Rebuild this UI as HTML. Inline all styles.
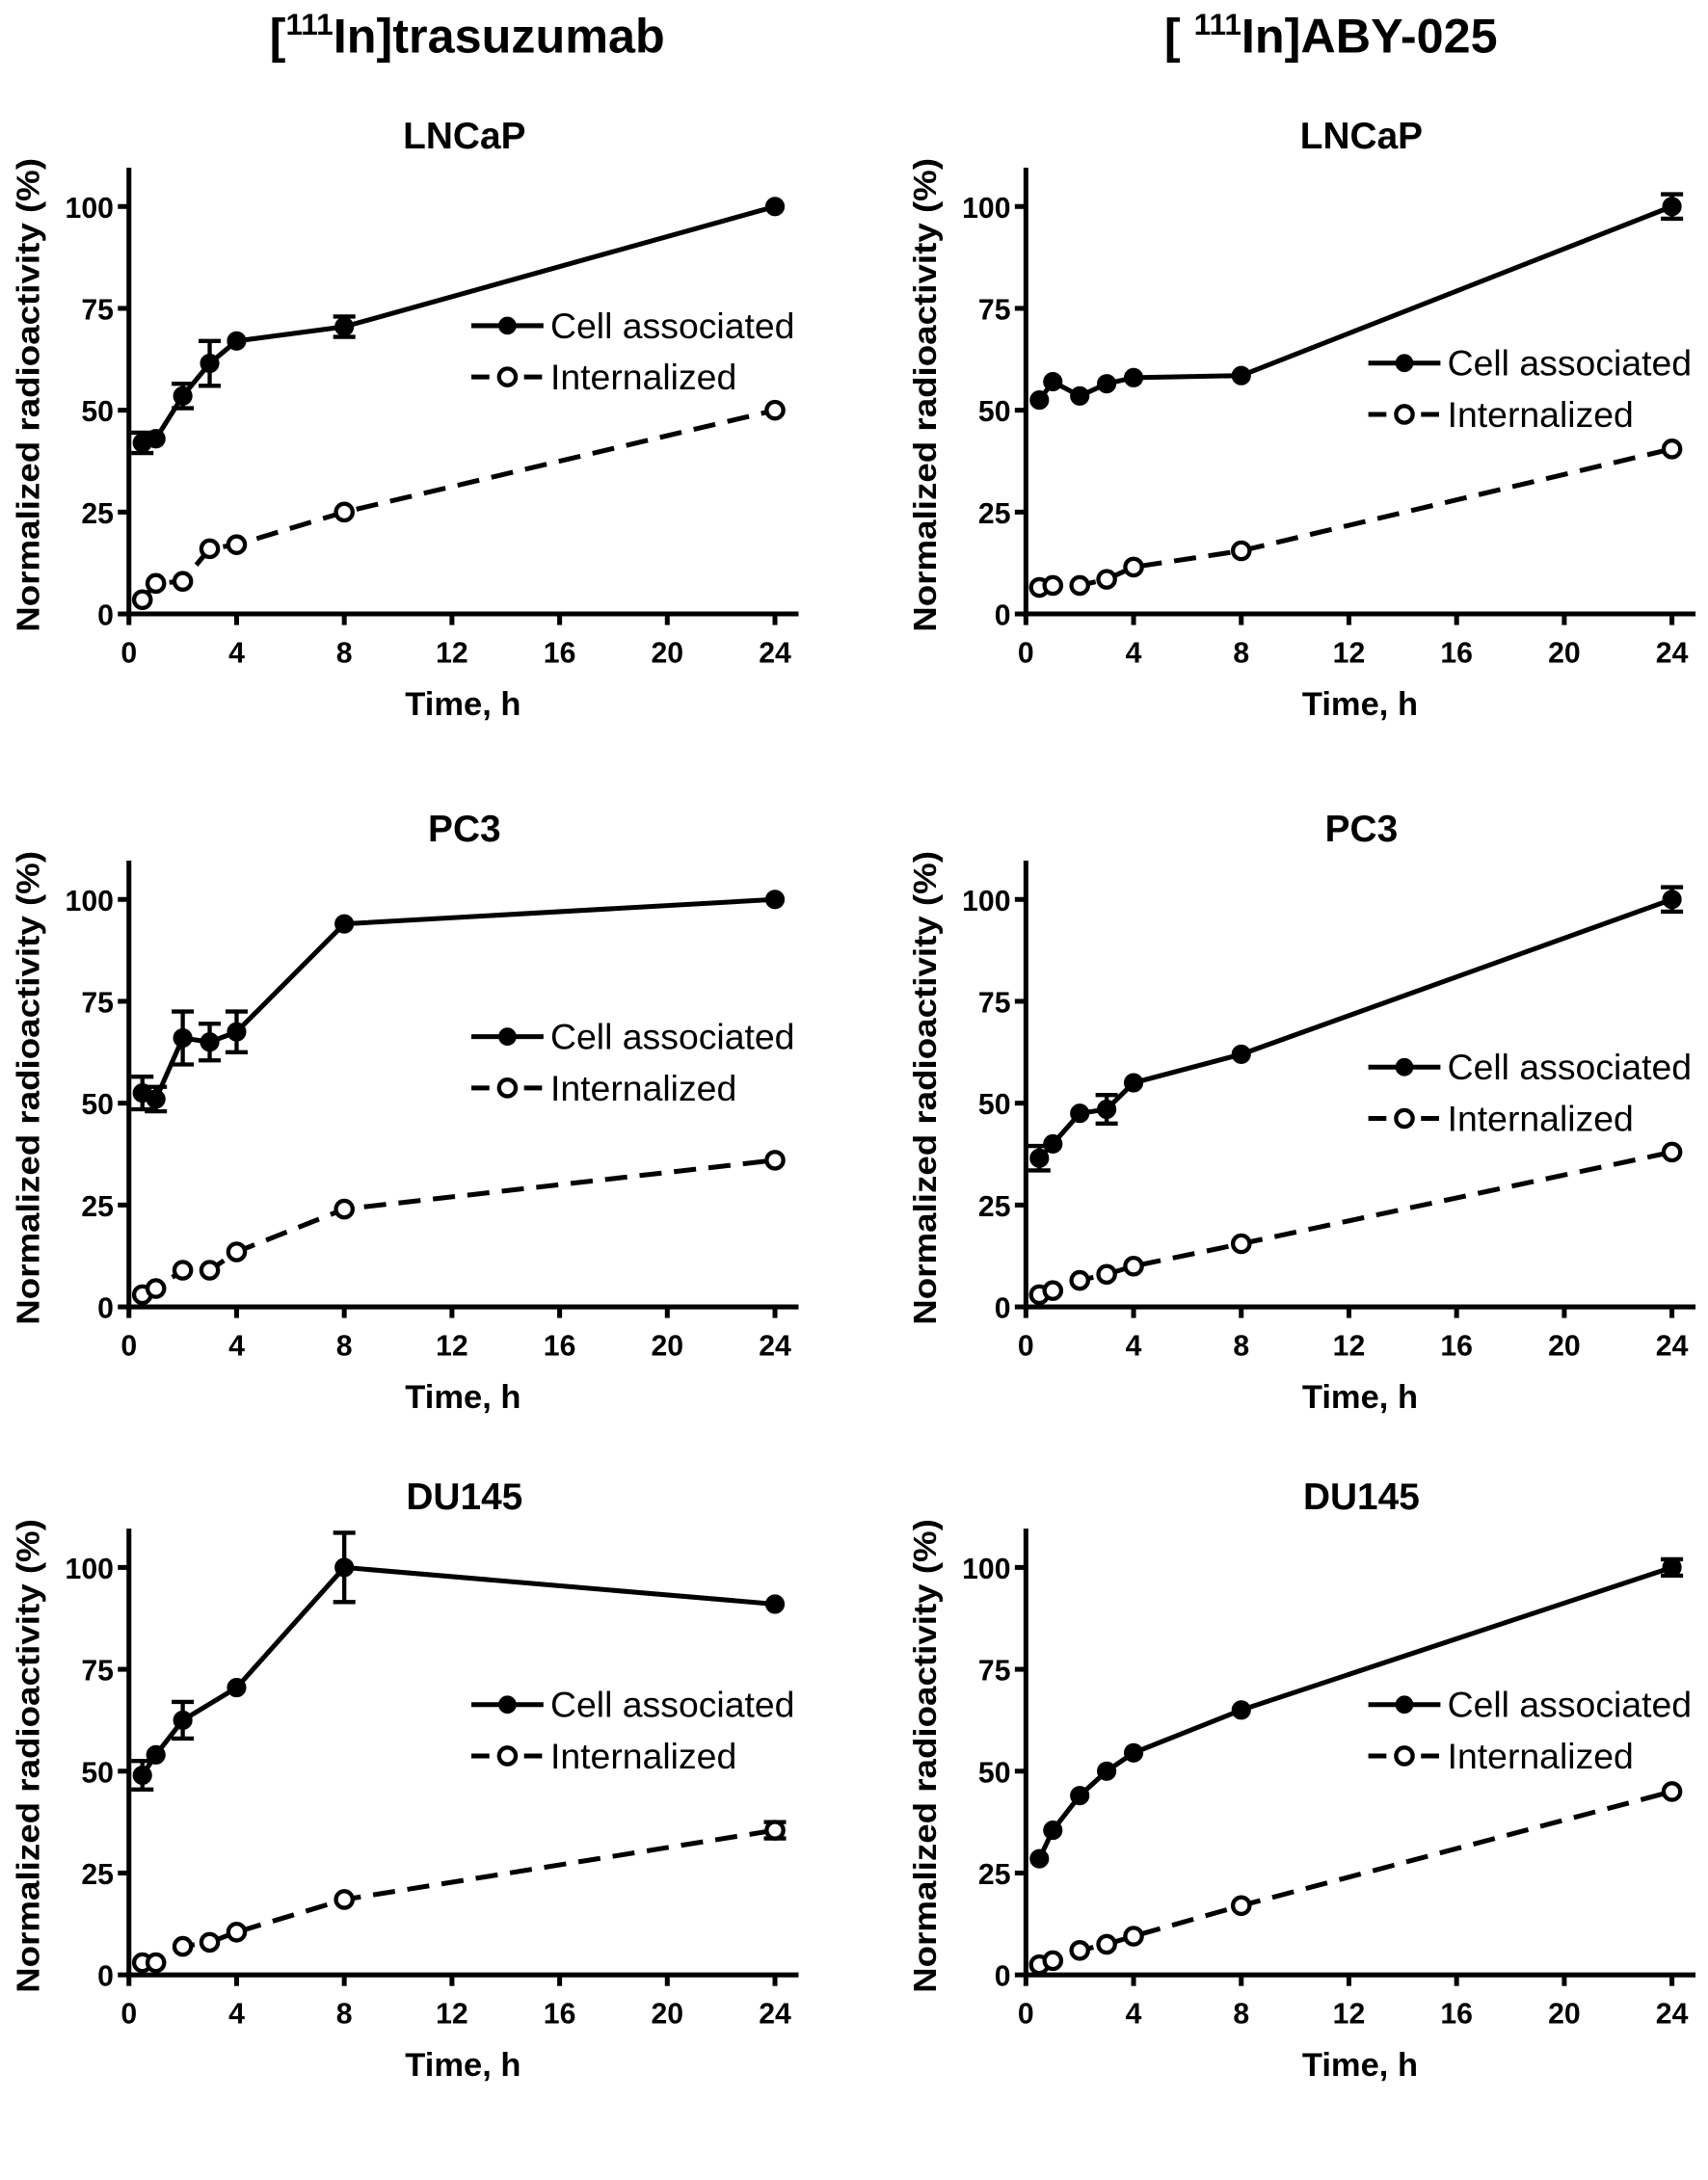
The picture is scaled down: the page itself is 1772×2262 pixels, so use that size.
<!DOCTYPE html>
<html><head><meta charset="utf-8"><style>
html,body{margin:0;padding:0;background:#fff}
svg{display:block}
text{font-family:"Liberation Sans",Arial,sans-serif}
</style></head><body>
<svg id="fig" width="1772" height="2262" viewBox="0 0 1232 1573" preserveAspectRatio="none" xmlns="http://www.w3.org/2000/svg">
<text x="337" y="38" text-anchor="middle" font-size="35" font-weight="bold">[<tspan dy="-13" font-size="22">111</tspan><tspan dy="13">In]trasuzumab</tspan></text>
<text x="960" y="38" text-anchor="middle" font-size="35" font-weight="bold">[ <tspan dy="-13" font-size="22">111</tspan><tspan dy="13">In]ABY-025</tspan></text>
</svg>
<script>
const xTimes = [0.5, 1, 2, 3, 4, 8, 24];
const xTicks = [0, 4, 8, 12, 16, 20, 24];
const yTicks = [0, 25, 50, 75, 100];
const panelTitles = ["LNCaP", "LNCaP", "PC3", "PC3", "DU145", "DU145"];
const cellLT = [42, 43, 53.5, 61.5, 67, 70.5, 100];
const cellLA = [52.5, 57, 53.5, 56.5, 58, 58.5, 100];
const cellPT = [52.5, 51, 66, 65, 67.5, 94, 100];
const cellPA = [36.5, 40, 47.5, 48.5, 55, 62, 100];
const cellDT = [49, 54, 62.5, null, 70.5, 100, 91];
const cellDA = [28.5, 35.5, 44, 50, 54.5, 65, 100];
const cellErrLT = [2.5, 0, 3, 5.5, 0, 2.5, 0];
const cellErrLA = [0, 0, 0, 0, 0, 0, 3];
const cellErrPT = [4, 3, 6.5, 4.5, 5, 0, 0];
const cellErrPA = [3, 0, 0, 3.5, 0, 0, 3];
const cellErrDT = [3.5, 0, 4.5, 0, 0, 8.5, 0];
const cellErrDA = [0, 0, 0, 0, 0, 0, 2];
const intLT = [3.5, 7.5, 8, 16, 17, 25, 50];
const intLA = [6.5, 7, 7, 8.5, 11.5, 15.5, 40.5];
const intPT = [3, 4.5, 9, 9, 13.5, 24, 36];
const intPA = [3, 4, 6.5, 8, 10, 15.5, 38];
const intDT = [3, 3, 7, 8, 10.5, 18.5, 35.5];
const intDA = [2.5, 3.5, 6, 7.5, 9.5, 17, 45];
const intErrDT = [0, 0, 0, 0, 0, 0, 2];

const cells = [cellLT, cellLA, cellPT, cellPA, cellDT, cellDA];
const cellErrs = [cellErrLT, cellErrLA, cellErrPT, cellErrPA, cellErrDT, cellErrDA];
const ints = [intLT, intLA, intPT, intPA, intDT, intDA];
const intErrs = [null, null, null, null, intErrDT, null];

const NS = "http://www.w3.org/2000/svg";
const svg = document.getElementById("fig");
function mk(tag, attrs, parent) {
  const e = document.createElementNS(NS, tag);
  for (const k in attrs) e.setAttribute(k, attrs[k]);
  (parent || svg).appendChild(e);
  return e;
}
const rowY0 = [443, 943, 1425];
const colX0 = [93, 740];
const legY = [[235, 262], [748, 770], [1230, 1230]];
const legX = [340, 987];

for (let p = 0; p < 6; p++) {
  const r = Math.floor(p / 2), c = p % 2;
  const X0 = colX0[c], Y0 = rowY0[r];
  const xs = v => X0 + v * (466 / 24);
  const ys = v => Y0 - v * 2.94;
  const g = mk("g", {});
  
  
  const t = mk("text", {x: X0 + 242, y: Y0 - 336, "text-anchor": "middle", "font-size": 27, "font-weight": "bold"}, g);
  t.textContent = panelTitles[p];
  
  
  const ax = mk("path", {d: `M${X0} ${Y0 - 322}V${Y0 + 2}M${X0 - 2} ${Y0}H${X0 + 483}`, stroke: "#000", "stroke-width": 3.5, fill: "none"}, g);
  
  
  yTicks.forEach(v => {
    mk("line", {x1: X0 - 8, x2: X0, y1: ys(v), y2: ys(v), stroke: "#000", "stroke-width": 3.5}, g);
    const tl = mk("text", {x: X0 - 11, y: ys(v) + 8, "text-anchor": "end", "font-size": 21, "font-weight": "bold"}, g);
    tl.textContent = v;
    
    
  });
  xTicks.forEach(v => {
    mk("line", {x1: xs(v), x2: xs(v), y1: Y0, y2: Y0 + 8, stroke: "#000", "stroke-width": 3.5}, g);
    const tl = mk("text", {x: xs(v), y: Y0 + 35, "text-anchor": "middle", "font-size": 21, "font-weight": "bold"}, g);
    tl.textContent = v;
    
    
  });
  const xt = mk("text", {x: X0 + 241, y: Y0 + 73, "text-anchor": "middle", "font-size": 24, "font-weight": "bold"}, g);
  xt.textContent = "Time, h";
  
  
  const yx = X0 - 65, yy = Y0 - 158;
  const yt = mk("text", {x: yx, y: yy, "text-anchor": "middle", "font-size": 23, "font-weight": "bold", transform: `rotate(-90 ${yx} ${yy})`, textLength: 342, lengthAdjust: "spacingAndGlyphs"}, g);
  yt.textContent = "Normalized radioactivity (%)";
  
  

  function series(vals, errs, dashed, name) {
    const pts = [];
    vals.forEach((v, i) => { if (v !== null) pts.push([xs(xTimes[i]), ys(v), i]); });
    const ln = mk("polyline", {points: pts.map(q => q[0] + "," + q[1]).join(" "), fill: "none", stroke: "#000", "stroke-width": 3.5, "stroke-dasharray": dashed ? "16 9" : "none"}, g);
    
    
    pts.forEach(q => {
      const e = errs ? errs[q[2]] : 0;
      if (e > 0) {
        const y1 = ys(vals[q[2]] + e), y2 = ys(vals[q[2]] - e);
        mk("path", {d: `M${q[0]} ${y1}V${y2}M${q[0] - 8} ${y1}H${q[0] + 8}M${q[0] - 8} ${y2}H${q[0] + 8}`, stroke: "#000", "stroke-width": 3, fill: "none"}, g);
      }
      const m = mk("circle", {cx: q[0], cy: q[1], r: dashed ? 6 : 6.5, fill: dashed ? "#fff" : "#000", stroke: "#000", "stroke-width": dashed ? 3 : 1}, g);
      
      
    });
  }
  series(cells[p], cellErrs[p], false, 'cell-associated');
  series(ints[p], intErrs[p], true, 'internalized');

  const lx = legX[c], ly = legY[r][c];
  const lg = mk("g", {}, g);
  
  
  [[ly, false, "Cell associated"], [ly + 37, true, "Internalized"]].forEach(([yy2, d, lab]) => {
    mk("line", {x1: lx, x2: lx + 52, y1: yy2, y2: yy2, stroke: "#000", "stroke-width": 3.5, "stroke-dasharray": d ? "13 6" : "none"}, lg);
    mk("circle", {cx: lx + 26, cy: yy2, r: 6, fill: d ? "#fff" : "#000", stroke: "#000", "stroke-width": d ? 3 : 1}, lg);
    const lt = mk("text", {x: lx + 57, y: yy2 + 9, "font-size": 26}, lg);
    lt.textContent = lab;
    
    
  });
}
</script>
</body></html>
